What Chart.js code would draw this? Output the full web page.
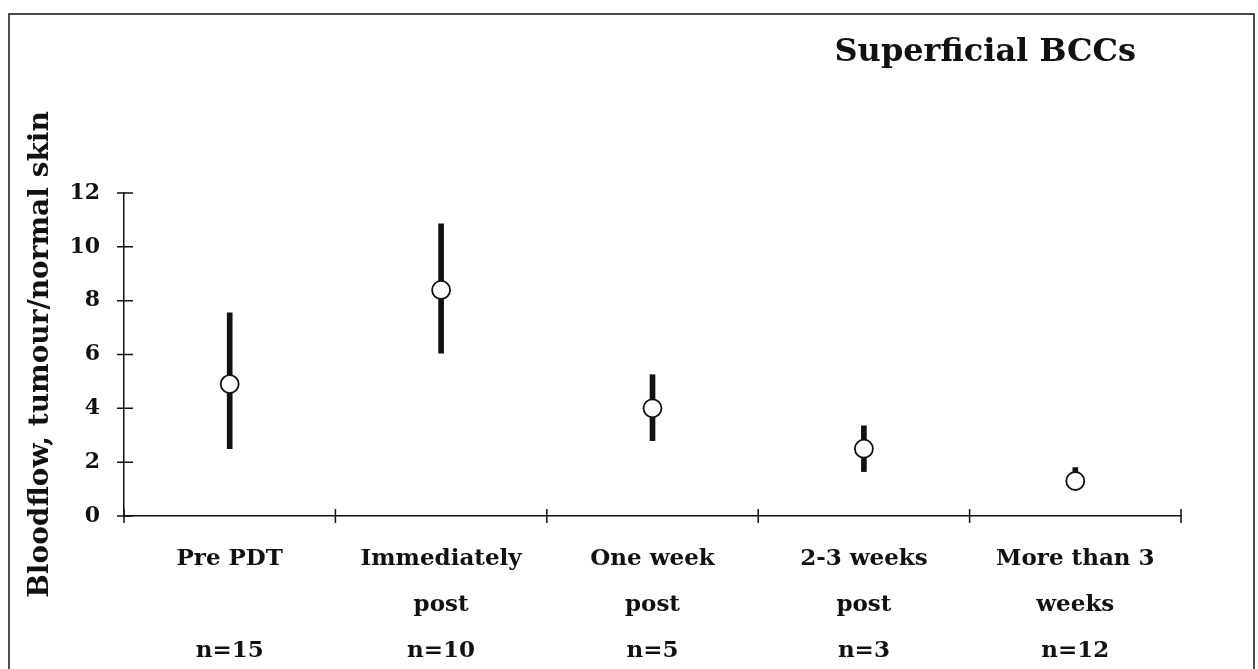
<!DOCTYPE html>
<html lang="en">
<head>
  <meta charset="UTF-8" />
  <title>Superficial BCCs</title>
  <script src="https://cdn.jsdelivr.net/npm/chart.js"></script>
  <style>
    html, body { margin: 0; padding: 0; background: #fff; }
    #wrap { width: 1258px; height: 669px; position: relative; }
  </style>
</head>
<body>
<div id="wrap"><canvas id="chart" width="1258" height="669"></canvas></div>
<script>
  // values
  const categories = [
    ['Pre PDT', '', 'n=15'],
    ['Immediately', 'post', 'n=10'],
    ['One week', 'post', 'n=5'],
    ['2-3 weeks', 'post', 'n=3'],
    ['More than 3', 'weeks', 'n=12']
  ];
  const means = [4.9, 8.4, 4.0, 2.5, 1.3];
  const lows = [2.5, 6.05, 2.8, 1.65, 1.0];
  const highs = [7.55, 10.85, 5.25, 3.35, 1.8];
  const yTicks = [0, 2, 4, 6, 8, 10, 12];
  const chartTitle = 'Superficial BCCs';

  const serif = '"DejaVu Serif", serif';

  // cross ticks on both axes, the frame and the title in the top right
  const extras = {
    id: 'extras',
    afterDraw(chart) {
      const { ctx, scales: { y }, chartArea: a } = chart;
      ctx.save();
      ctx.strokeStyle = '#111';
      ctx.lineWidth = 1.5;
      ctx.beginPath();
      yTicks.forEach(v => {
        const py = y.getPixelForValue(v);
        ctx.moveTo(a.left - 7, py);
        ctx.lineTo(a.left + 9, py);
      });
      const n = categories.length;
      for (let i = 0; i <= n; i++) {
        const px = a.left + i * (a.right - a.left) / n;
        ctx.moveTo(px, a.bottom - 7);
        ctx.lineTo(px, a.bottom + 7);
      }
      ctx.stroke();
      ctx.strokeRect(9, 14, 1245, 700);

      ctx.fillStyle = '#111';
      ctx.font = 'bold 32px ' + serif;
      ctx.textAlign = 'right';
      ctx.textBaseline = 'middle';
      ctx.fillText(chartTitle, a.right - 45, 53);
      ctx.restore();
    }
  };

  new Chart(document.getElementById('chart'), {
    type: 'bar',
    data: {
      labels: categories,
      datasets: [
        {
          type: 'line',
          data: means,
          showLine: false,
          pointRadius: 9,
          pointBackgroundColor: '#fff',
          pointBorderColor: '#111',
          pointBorderWidth: 1.8,
          order: 0
        },
        {
          data: lows.map((l, i) => [l, highs[i]]),
          backgroundColor: '#111',
          barThickness: 5,
          order: 1
        }
      ]
    },
    options: {
      responsive: false,
      animation: false,
      layout: { padding: { left: 24, right: 77, top: 193, bottom: 0 } },
      plugins: {
        legend: { display: false },
        tooltip: { enabled: false },
        title: { display: false }
      },
      scales: {
        x: {
          grid: { display: false, drawTicks: false },
          border: { color: '#111', width: 1.5 },
          ticks: {
            color: '#111',
            padding: 20,
            maxRotation: 0,
            font: { family: serif, size: 23, weight: 'bold', lineHeight: 2 }
          },
          afterFit(s) { s.height = 153; }
        },
        y: {
          min: 0,
          max: 12,
          afterBuildTicks(s) { s.ticks = yTicks.map(v => ({ value: v })); },
          grid: { display: false, drawTicks: false },
          border: { color: '#111', width: 1.5 },
          ticks: {
            color: '#111',
            padding: 24,
            font: { family: serif, size: 22, weight: 'bold' }
          },
          title: {
            display: true,
            text: 'Bloodflow, tumour/normal skin',
            color: '#111',
            font: { family: serif, size: 28, weight: 'bold' },
            padding: { top: 0, bottom: 3 }
          },
          afterFit(s) { s.width = 100; }
        }
      }
    },
    plugins: [extras]
  });
</script>
</body>
</html>
